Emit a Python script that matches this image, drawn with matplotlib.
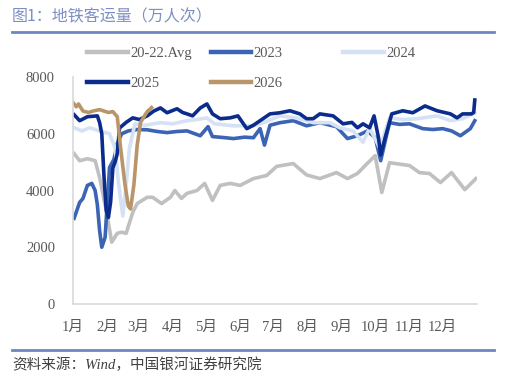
import matplotlib
matplotlib.use("Agg")
import matplotlib.pyplot as plt
from matplotlib.lines import Line2D

plt.rcParams['font.family'] = ['Liberation Serif', 'Noto Sans CJK SC', 'DejaVu Sans']

# day of year -> value (万人次)
avg_days = [1, 6, 13, 20, 24, 30, 35, 40, 44, 48, 54, 58, 67, 72, 80, 88, 92, 98, 103, 112,
            119, 126, 133, 142, 151, 163, 175, 184, 199, 211, 223, 238, 248, 257, 264, 273,
            279, 286, 304, 313, 322, 332, 342, 354, 364]
avg_vals = [5300, 5050, 5120, 5050, 4460, 3300, 2180, 2490, 2530, 2490, 3230, 3540, 3760, 3760,
            3540, 3760, 4000, 3720, 3900, 4000, 4250, 3650, 4180, 4250, 4180, 4420, 4530, 4850,
            4950, 4550, 4420, 4630, 4420, 4600, 4880, 5230, 3930, 4980, 4880, 4630, 4600, 4280,
            4630, 4030, 4420]

y23_days = [1, 6, 9, 13, 17, 20, 22, 24, 26, 29, 33, 37, 40, 44, 50, 58, 67, 76, 85, 94, 103,
            115, 122, 126, 135, 145, 155, 163, 169, 173, 178, 187, 199, 211, 223, 238, 248, 257,
            266, 273, 278, 283, 286, 295, 304, 316, 325, 334, 342, 350, 359, 363]
y23_vals = [3020, 3580, 3720, 4180, 4250, 4000, 3500, 2600, 2000, 2350, 4810, 5100, 5650, 6000,
            6100, 6150, 6140, 6080, 6040, 6080, 6100, 5930, 6250, 5900, 5870, 5830, 5880, 5860,
            6180, 5600, 6300, 6390, 6460, 6280, 6390, 6250, 5830, 5930, 6100, 5860, 5050, 5900,
            6390, 6330, 6350, 6180, 6150, 6180, 6100, 5930, 6180, 6460]

y24_days = [1, 8, 15, 24, 33, 38, 41, 45, 48, 51, 56, 65, 79, 90, 103, 112, 121, 128, 145, 163,
            172, 187, 202, 217, 232, 241, 253, 262, 268, 277, 286, 298, 311, 320, 329, 341, 352,
            363]
y24_vals = [6210, 6100, 6210, 6100, 6000, 5500, 4300, 3100, 4200, 5500, 6350, 6300, 6390, 6350,
            6460, 6500, 6560, 6350, 6280, 6280, 6390, 6630, 6560, 6390, 6390, 6210, 6100, 5700,
            6200, 5500, 6560, 6500, 6530, 6580, 6630, 6460, 6530, 6740]

y25_days = [1, 6, 13, 22, 24, 26, 28, 30, 32, 34, 36, 38, 40, 42, 48, 54, 60, 67, 73, 79, 85,
            90, 94, 99, 103, 108, 115, 121, 126, 133, 142, 149, 157, 163, 169, 178, 187, 196,
            205, 211, 217, 223, 235, 244, 252, 257, 262, 268, 272, 276, 278, 282, 288, 298, 307,
            318, 329, 341, 347, 352, 360, 362, 363]
y25_vals = [6670, 6460, 6600, 6630, 6400, 6000, 4500, 3300, 3050, 3600, 4800, 5000, 5300, 6200,
            6400, 6560, 6500, 6630, 6800, 6910, 6740, 6820, 6880, 6750, 6700, 6630, 6910, 7050,
            6700, 6530, 6560, 6630, 6180, 6300, 6460, 6700, 6740, 6810, 6700, 6530, 6530, 6700,
            6630, 6350, 6400, 6210, 6350, 6210, 6630, 5860, 5250, 5860, 6700, 6810, 6740, 6980,
            6810, 6700, 6560, 6700, 6700, 6750, 7190]

y26_days = [0, 3, 5, 9, 14, 18, 24, 32, 36, 40, 43, 47, 50, 52, 55, 58, 61, 67, 71]
y26_vals = [7100, 6950, 7050, 6800, 6750, 6800, 6850, 6750, 6780, 6600, 5500, 4200, 3450, 3350,
            4200, 5600, 6400, 6780, 6920]

month_starts = [0, 31, 59, 90, 120, 151, 181, 212, 243, 273, 304, 334]
month_labels = ['1月', '2月', '3月', '4月', '5月', '6月', '7月', '8月', '9月', '10月', '11月', '12月']

W, H = 508, 386
fig = plt.figure(figsize=(W / 100, H / 100), dpi=100)
ax = fig.add_axes([73 / W, 1 - 304 / H, (477 - 73) / W, (304 - 77) / H])

lw = 2.6
l_avg, = ax.plot(avg_days, avg_vals, color='#c0c0c0', lw=lw, label='20-22.Avg')
l23, = ax.plot(y23_days, y23_vals, color='#3b64b4', lw=lw, label='2023')
l24, = ax.plot(y24_days, y24_vals, color='#d5e1f4', lw=lw, label='2024')
l25, = ax.plot(y25_days, y25_vals, color='#0b2c8c', lw=lw, label='2025')
l26, = ax.plot(y26_days, y26_vals, color='#b9956a', lw=lw, label='2026')

ax.set_xlim(0, 365)
ax.set_ylim(0, 8000)
ax.set_yticks([0, 2000, 4000, 6000, 8000])
ax.set_xticks(month_starts)
ax.set_xticklabels(month_labels)
ax.tick_params(axis='both', length=0, labelsize=10.5, labelcolor='#595959')
ax.tick_params(axis='y', pad=13)
ax.tick_params(axis='x', pad=12)
for s in ['top', 'right']:
    ax.spines[s].set_visible(False)
for s in ['left', 'bottom']:
    ax.spines[s].set_color('#d9d9d9')
    ax.spines[s].set_linewidth(1.2)

leg_kw = dict(frameon=False, fontsize=10.5, handlelength=2.8, handletextpad=0.15,
              labelspacing=1.15, borderpad=0, borderaxespad=0, loc='upper left',
              labelcolor='#595959')
leg1 = fig.legend([l_avg, l25, l23, l26], ['20-22.Avg', '2025', '2023', '2026'], ncol=2,
                  columnspacing=1.3, bbox_to_anchor=(87 / W, 1 - 47 / H), **leg_kw)
leg2 = fig.legend([l24], ['2024'], bbox_to_anchor=(343 / W, 1 - 47 / H), **leg_kw)
for leg in (leg1, leg2):
    for h in leg.legend_handles:
        h.set_linewidth(3.2)

fig.text(12 / W, 1 - 17 / H, '图1：地铁客运量（万人次）', fontsize=11.5, color='#7d8fc3',
         va='center', ha='left', family=['Noto Sans CJK SC', 'DejaVu Sans'])
fig.add_artist(Line2D([12 / W, 494 / W], [1 - 32 / H, 1 - 32 / H], color='#6d86bd', lw=2))
fig.add_artist(Line2D([12 / W, 494 / W], [1 - 350 / H, 1 - 350 / H], color='#6d86bd', lw=2))
fig.text(12 / W, 1 - 365 / H, '资料来源：Wind，中国银河证券研究院', fontsize=10.5, color='#404040',
         va='center', ha='left', style='italic')

fig.savefig('out.png', dpi=100)
